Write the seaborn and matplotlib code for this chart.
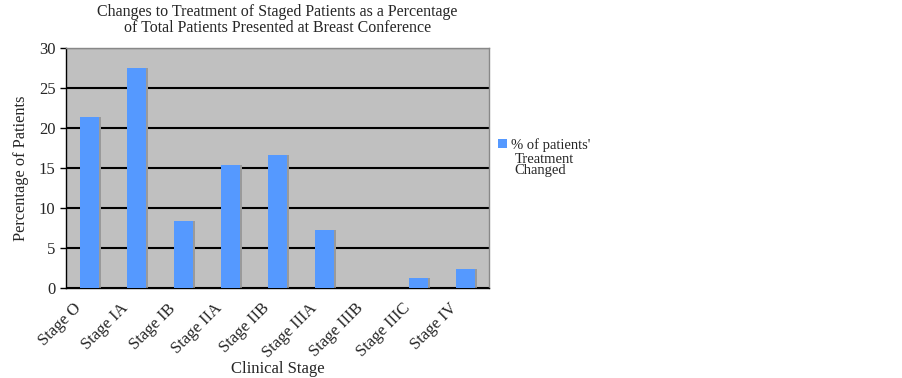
import numpy as np
import pandas as pd
import matplotlib
matplotlib.use("Agg")
import matplotlib.pyplot as plt
import seaborn as sns

stages = ["Stage O", "Stage IA", "Stage IB", "Stage IIA", "Stage IIB",
          "Stage IIIA", "Stage IIIB", "Stage IIIC", "Stage IV"]
pct_changed = [21.4, 27.4, 8.4, 15.4, 16.6, 7.2, 0.0, 1.2, 2.4]
series_name = "% of patients'"

df = pd.DataFrame({"Stage": stages, "Pct": pct_changed, "Series": series_name})

sns.set_style("white")
plt.rcParams["font.family"] = ["Liberation Serif", "DejaVu Serif"]

fig = plt.figure(figsize=(9.03, 3.78), dpi=100)
ax = fig.add_axes([0.073, 0.238, 0.4685, 0.636])
ax.set_facecolor("#C0C0C0")

# soft shadow to the right of each bar
ax.bar(np.arange(len(stages)) + 0.04, pct_changed, width=0.4,
       color="#9a9a9a", linewidth=0, zorder=2)
sns.barplot(data=df, x="Stage", y="Pct", hue="Series", palette=["#5599FF"],
            width=0.4, ax=ax, zorder=3, saturation=1, linewidth=0)

ax.set_ylim(0, 30)
ax.set_xlim(-0.5, len(stages) - 0.5)
ax.set_yticks(range(0, 31, 5))
ax.yaxis.grid(True, color="black", linewidth=1.5, zorder=1)
ax.set_axisbelow(True)

# labels sit a little left of each category centre, like the original
ax.set_xticks(np.arange(len(stages)) - 0.34)
ax.set_xticklabels(stages, rotation=45, ha="right", va="top",
                   rotation_mode="anchor", fontsize=12)
ax.set_xticks(np.arange(-0.5, len(stages)), minor=True)
ax.tick_params(axis="x", which="major", length=0, pad=9)
ax.tick_params(axis="x", which="minor", length=4, width=1, color="black", direction="out")
ax.tick_params(axis="y", length=4, width=1, color="black", direction="out", labelsize=12, left=True)

for s in ["left", "bottom"]:
    ax.spines[s].set_color("black")
    ax.spines[s].set_linewidth(1)
for s in ["top", "right"]:
    ax.spines[s].set_color("#888888")
    ax.spines[s].set_linewidth(1)

ax.set_xlabel("Clinical Stage", fontsize=12, labelpad=0)
ax.set_ylabel("Percentage of Patients", fontsize=11.8, labelpad=7)
ax.set_title("Changes to Treatment of Staged Patients as a Percentage\n"
             "of Total Patients Presented at Breast Conference",
             fontsize=11.5, linespacing=1.0, pad=11)

leg = ax.legend(loc="upper left", bbox_to_anchor=(1.022, 0.625), frameon=False,
                fontsize=10.5, handlelength=0.6, handleheight=0.6, handletextpad=0.3,
                borderaxespad=0, borderpad=0)
fig.text(0.570, 0.596, "Treatment\nChanged", fontsize=10.5, va="top",
         ha="left", linespacing=0.85)

fig.savefig("out.png", dpi=100)
